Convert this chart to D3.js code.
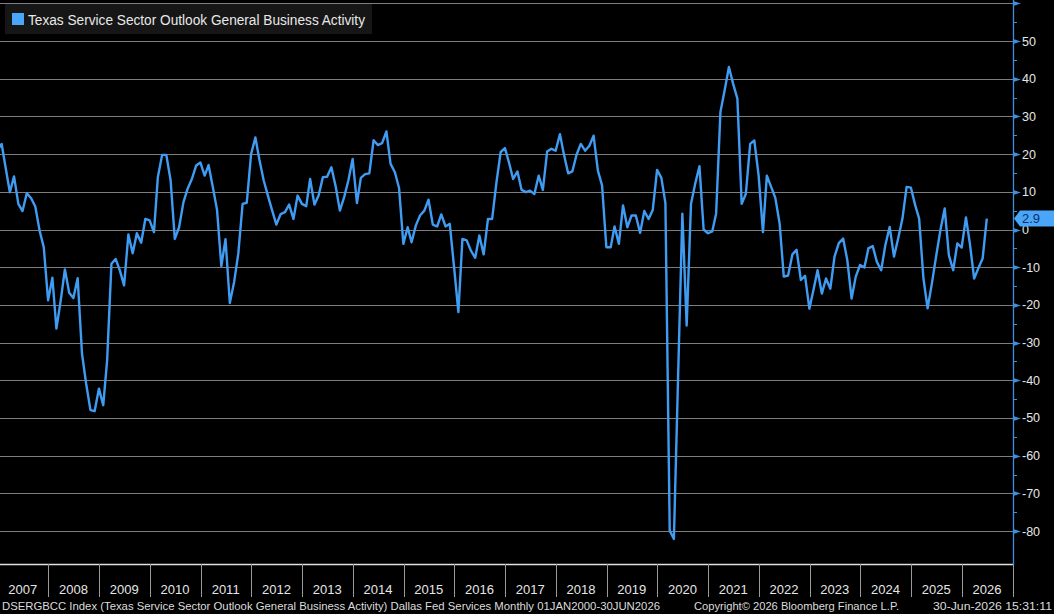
<!DOCTYPE html>
<html>
<head>
<meta charset="utf-8">
<script src="https://cdn.jsdelivr.net/npm/d3@7"></script>
<style>
    html, body { margin: 0; padding: 0; background: #000; }
    svg { display: block; font-family: "Liberation Sans", Arial, sans-serif; }
</style>
</head>
<body>
<script>
// ---- data (monthly, month-end) ----
var seriesName = "Texas Service Sector Outlook General Business Activity";
var firstYear = 2006, firstMonth = 12;   // first value below = Dec 2006

var values2006to2012 = [
    21,
    22.7, 16.5, 9.9, 14.1, 6.8, 4.9, 9.6, 8.3, 6.1, -0.3, -4.7, -18.8,
    -12.8, -26.3, -18.8, -10.6, -16.8, -18.2, -12.9, -32.9, -40.9, -47.9, -48.2, -42.2,
    -46.6, -34.7, -9.1, -7.8, -10.9, -14.8, -1.3, -6.3, -1.0, -3.5, 2.8, 2.4,
    -0.7, 13.9, 19.8, 19.8, 13.0, -2.5, 0.6, 7.2, 10.8, 13.4, 16.9, 17.8,
    14.3, 17.1, 11.2, 5.2, -9.7, -2.6, -19.5, -13.9, -6.4, 6.8, 7.1, 20.0,
    24.4, 18.5, 13.0, 9.0, 5.0, 1.3, 4.1, 4.6, 6.6, 2.8, 9.0, 6.8
];
var values2013to2019 = [
    6.2, 13.4, 6.6, 9.0, 13.9, 14.0, 16.5, 11.4, 5.0, 8.6, 13.0, 18.7,
    7.0, 13.7, 14.7, 14.9, 23.7, 22.4, 22.9, 26.0, 17.4, 15.2, 11.0, -3.8,
    0.6, -3.4, 1.1, 3.7, 5.0, 7.9, 1.3, 0.8, 4.0, 0.8, 1.5, -10.0,
    -21.9, -2.5, -2.9, -5.6, -7.5, -1.6, -6.6, 2.8, 2.8, 12.5, 20.5, 21.6,
    17.5, 13.4, 15.4, 10.5, 9.9, 10.3, 9.4, 14.3, 10.5, 20.7, 21.4, 20.9,
    25.3, 20.0, 14.9, 15.4, 19.9, 22.7, 20.9, 22.2, 24.9, 15.6, 11.7, -4.7,
    -4.7, 0.8, -3.8, 6.4, 0.6, 3.7, 3.7, -0.9, 4.9, 2.8, 5.2, 15.8
];
var values2020to2026 = [
    13.7, 7.0, -79.9, -82.1, -38.0, 4.2, -25.5, 6.8, 12.1, 16.8, 0.0, -1.0,
    -0.5, 4.2, 31.2, 36.9, 43.1, 38.7, 34.7, 6.8, 9.5, 22.7, 23.6, 14.3,
    -0.7, 14.3, 11.3, 8.4, 1.6, -12.5, -12.2, -6.6, -5.4, -13.4, -12.3, -21.0,
    -15.8, -10.8, -17.0, -13.0, -15.7, -7.2, -3.6, -2.4, -8.1, -18.3, -12.5, -9.4,
    -10.1, -5.0, -4.4, -8.6, -10.8, -4.1, 0.7, -7.2, -2.4, 2.9, 11.3, 11.1,
    6.4, 2.9, -13.0, -20.9, -14.3, -7.2, -0.2, 5.6, -6.8, -10.8, -3.7, -4.8,
    3.2, -3.7, -13.0, -10.3, -7.7, 2.9
];

var yearLabels = [2007, 2008, 2009, 2010, 2011, 2012, 2013, 2014, 2015, 2016,
                  2017, 2018, 2019, 2020, 2021, 2022, 2023, 2024, 2025, 2026];
var yTicks = [50, 40, 30, 20, 10, 0, -10, -20, -30, -40, -50, -60, -70, -80];
var gridTicks = [60, 50, 40, 30, 20, 10, 0, -10, -20, -30, -40, -50, -60, -70, -80];
var lastValueLabel = "2.9";

var footerLeft = "DSERGBCC Index (Texas Service Sector Outlook General Business Activity) Dallas Fed Services Monthly 01JAN2000-30JUN2026";
var footerMid = "Copyright\u00a9 2026 Bloomberg Finance L.P.";
var footerRight = "30-Jun-2026 15:31:11";

// ---- layout ----
var w = 1054, h = 614;
var plotRight = 1013, plotBottom = 564;
var lineBlue = "#3f9cf2";
var axisBlue = "#3d8fe0";

function display() {
    var allValues = values2006to2012.concat(values2013to2019, values2020to2026);
    var data = allValues.map(function(v, i) {
        var m = firstMonth - 1 + i;              // 0-based month count from Jan firstYear
        var yr = firstYear + Math.floor(m / 12);
        var mo = m % 12;
        return { date: new Date(Date.UTC(yr, mo + 1, 0)), value: v };  // month end
    });

    var x = d3.scaleUtc()
        .domain([new Date(Date.UTC(2007, 0, 1)), new Date(Date.UTC(2027, 0, 1))])
        .range([-2.5, 1012.5]);
    var y = d3.scaleLinear()
        .domain([-88.73, 60.88])
        .range([plotBottom, 0]);

    var chart = d3.select("body")
        .append("svg")
        .attr("width", w)
        .attr("height", h);

    chart.append("rect")
        .attr("width", w)
        .attr("height", h)
        .attr("fill", "#000");

    chart.append("defs").append("clipPath")
        .attr("id", "clip")
        .append("rect")
        .attr("x", 0)
        .attr("y", 0)
        .attr("width", plotRight)
        .attr("height", plotBottom);

    // horizontal grid
    chart.append("g").selectAll(".grid")
        .data(gridTicks)
        .enter().append("line")
        .attr("x1", 0)
        .attr("x2", plotRight)
        .attr("y1", function(d) { return Math.round(y(d)) + 0.5; })
        .attr("y2", function(d) { return Math.round(y(d)) + 0.5; })
        .attr("stroke", "#7d7d7d")
        .attr("stroke-width", 1);

    // the series
    var line = d3.line()
        .x(function(d) { return x(d.date); })
        .y(function(d) { return y(d.value); });

    chart.append("path")
        .datum(data)
        .attr("clip-path", "url(#clip)")
        .attr("d", line)
        .attr("fill", "none")
        .attr("stroke", lineBlue)
        .attr("stroke-width", 2.4)
        .attr("stroke-linejoin", "round");

    // bottom axis: baseline, year separators, labels
    chart.append("line")
        .attr("x1", 0).attr("x2", plotRight + 0.5)
        .attr("y1", plotBottom + 0.5).attr("y2", plotBottom + 0.5)
        .attr("stroke", "#e0e0e0")
        .attr("stroke-width", 1.3);

    var separators = yearLabels.map(function(yr) { return yr + 1; });
    chart.append("g").selectAll(".sep")
        .data(separators)
        .enter().append("line")
        .attr("x1", function(d) { return Math.round(x(new Date(Date.UTC(d, 0, 1)))) + 0.5; })
        .attr("x2", function(d) { return Math.round(x(new Date(Date.UTC(d, 0, 1)))) + 0.5; })
        .attr("y1", plotBottom)
        .attr("y2", 597)
        .attr("stroke", "#9a9a9a")
        .attr("stroke-width", 1);

    chart.append("g").selectAll(".yearLabel")
        .data(yearLabels)
        .enter().append("text")
        .text(function(d) { return d; })
        .attr("x", function(d) { return x(new Date(Date.UTC(d, 6, 1))); })
        .attr("y", 594)
        .attr("text-anchor", "middle")
        .attr("fill", "#e6e6e6")
        .attr("font-size", 13);

    // right axis
    chart.append("line")
        .attr("x1", plotRight + 0.5).attr("x2", plotRight + 0.5)
        .attr("y1", 0).attr("y2", plotBottom + 1)
        .attr("stroke", axisBlue)
        .attr("stroke-width", 1.3);

    var minorTicks = gridTicks.slice(0, -1).map(function(d) { return d - 5; });
    chart.append("g").selectAll(".minor")
        .data(minorTicks)
        .enter().append("line")
        .attr("x1", plotRight)
        .attr("x2", plotRight + 4)
        .attr("y1", function(d) { return Math.round(y(d)) + 0.5; })
        .attr("y2", function(d) { return Math.round(y(d)) + 0.5; })
        .attr("stroke", axisBlue)
        .attr("stroke-width", 1);

    chart.append("g").selectAll(".arrow")
        .data(gridTicks)
        .enter().append("path")
        .attr("d", function(d) {
            var ty = Math.round(y(d)) + 0.5;
            return "M" + plotRight + "," + (ty - 2.5) + "L" + (plotRight + 8) + "," + ty +
                   "L" + plotRight + "," + (ty + 2.5) + "Z";
        })
        .attr("fill", axisBlue);

    var yAxis = d3.axisRight(y)
        .tickValues(yTicks)
        .tickSize(0)
        .tickPadding(0)
        .tickFormat(function(d) { return String(d); });

    var yAxisG = chart.append("g")
        .attr("transform", "translate(" + (plotRight + 9) + ",0)")
        .call(yAxis);
    yAxisG.select(".domain").remove();
    yAxisG.selectAll("text")
        .attr("fill", "#e6e6e6")
        .attr("font-size", 12.5)
        .attr("font-family", "\"Liberation Sans\", Arial, sans-serif");

    // last value tag (drawn over the "0" label, as in the original)
    var last = data[data.length - 1];
    var ly = y(last.value);
    chart.append("path")
        .attr("d", "M" + (plotRight + 1) + "," + ly +
                   "L" + (plotRight + 7) + "," + (ly - 8) +
                   "L" + w + "," + (ly - 8) +
                   "L" + w + "," + (ly + 8) +
                   "L" + (plotRight + 7) + "," + (ly + 8) + "Z")
        .attr("fill", "#4aa6f8");
    chart.append("text")
        .text(lastValueLabel)
        .attr("x", plotRight + 9)
        .attr("y", ly)
        .attr("dy", "0.36em")
        .attr("fill", "#0d2f66")
        .attr("font-size", 13);

    // legend
    chart.append("rect")
        .attr("x", 5).attr("y", 4)
        .attr("width", 367).attr("height", 30)
        .attr("fill", "#161616");
    chart.append("rect")
        .attr("x", 12).attr("y", 13)
        .attr("width", 12).attr("height", 12)
        .attr("fill", "#4aa6f8");
    chart.append("text")
        .text(seriesName)
        .attr("x", 28)
        .attr("y", 25)
        .attr("fill", "#e8e8e8")
        .attr("font-size", 14)
        .attr("textLength", 337)
        .attr("lengthAdjust", "spacingAndGlyphs");

    // footer
    var footer = [
        { text: footerLeft, x: 2, len: 658 },
        { text: footerMid, x: 694, len: 205 },
        { text: footerRight, x: 933, len: 119 }
    ];
    chart.append("g").selectAll(".footer")
        .data(footer)
        .enter().append("text")
        .text(function(d) { return d.text; })
        .attr("x", function(d) { return d.x; })
        .attr("y", 610)
        .attr("fill", "#dcdcdc")
        .attr("font-size", 11)
        .attr("textLength", function(d) { return d.len; })
        .attr("lengthAdjust", "spacingAndGlyphs");
}

document.addEventListener("DOMContentLoaded", function() {
    display();
});
</script>
</body>
</html>
